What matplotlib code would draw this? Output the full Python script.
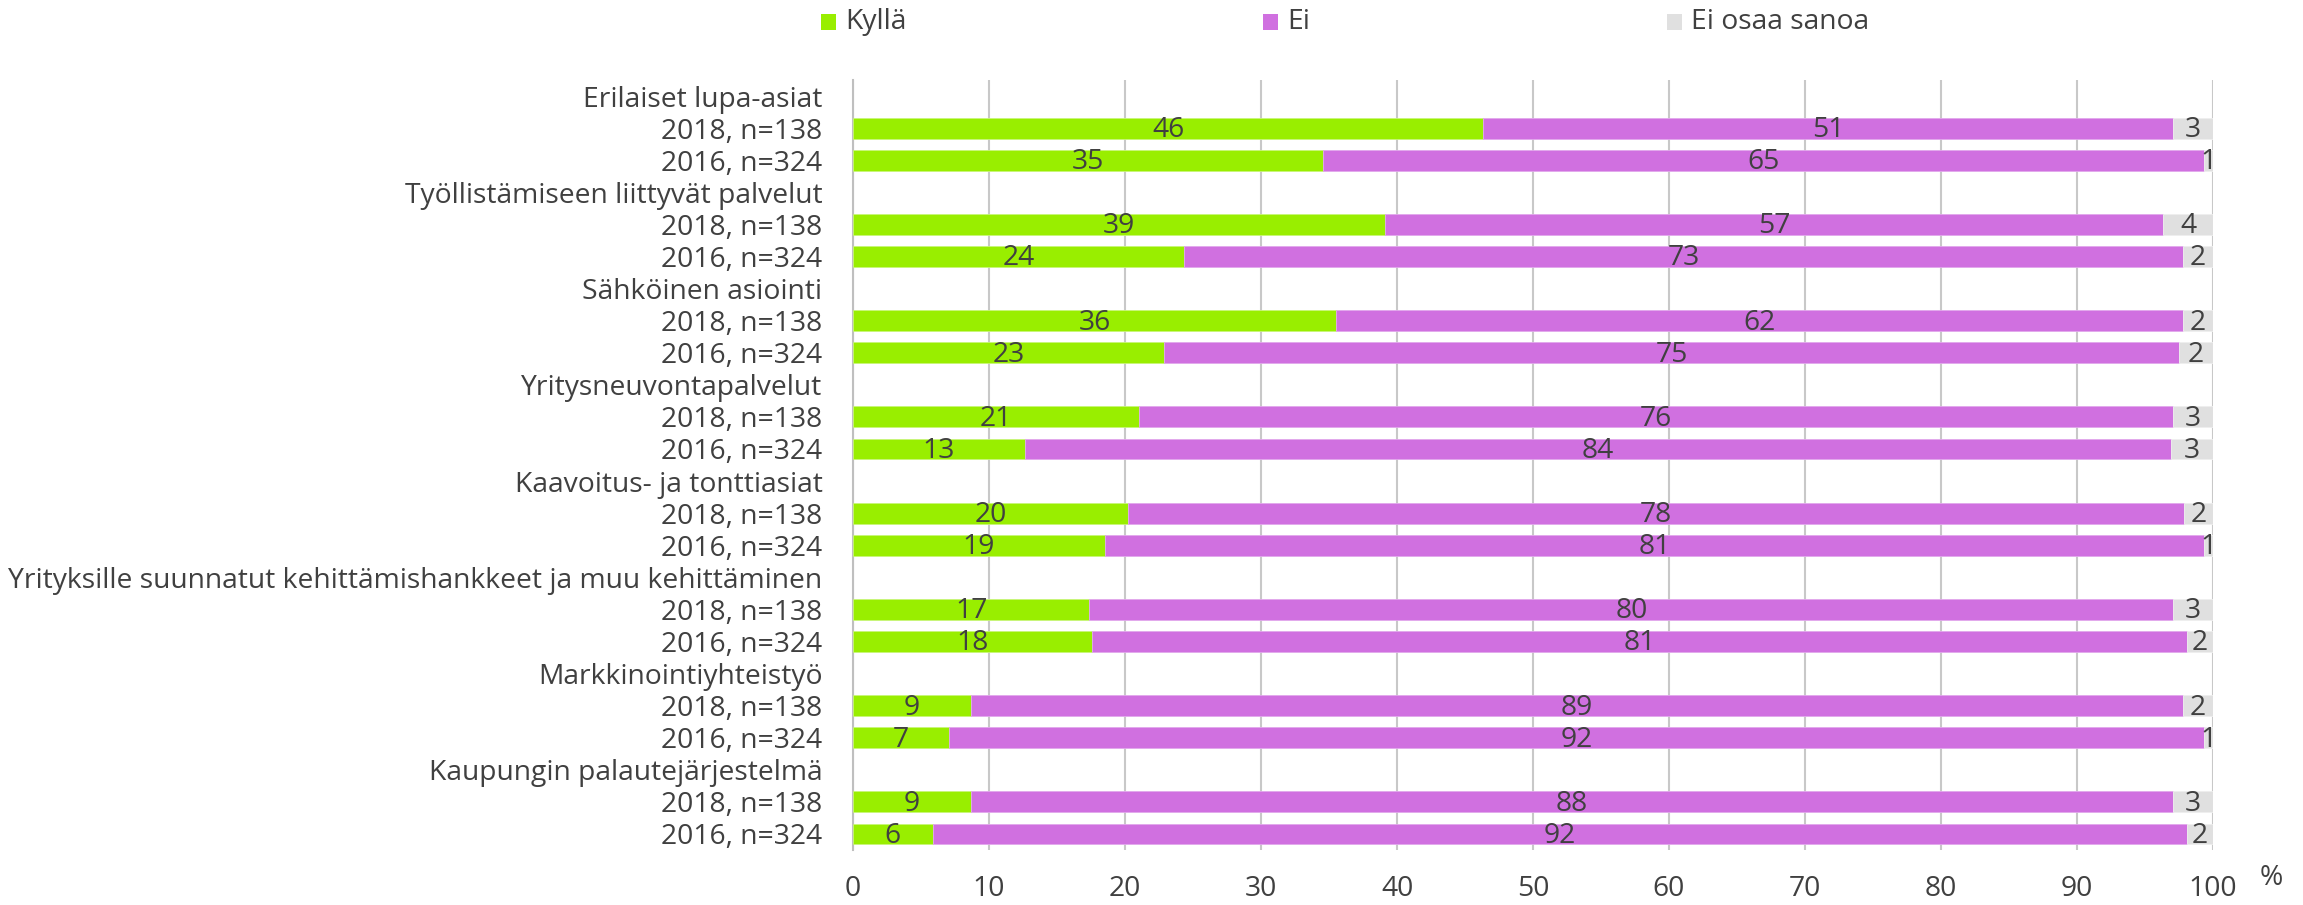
import matplotlib
matplotlib.use("Agg")
import matplotlib.pyplot as plt
from matplotlib.patches import Rectangle

plt.rcParams['font.family'] = ['Open Sans', 'DejaVu Sans']

groups = ["Erilaiset lupa-asiat",
          "Työllistämiseen liittyvät palvelut",
          "Sähköinen asiointi",
          "Yritysneuvontapalvelut",
          "Kaavoitus- ja tonttiasiat",
          "Yrityksille suunnatut kehittämishankkeet ja muu kehittäminen",
          "Markkinointiyhteistyö",
          "Kaupungin palautejärjestelmä"]
years = ["2018, n=138", "2016, n=324"]
series = ["Kyllä", "Ei", "Ei osaa sanoa"]

kylla = [46.34, 34.56, 39.10, 24.33, 35.52, 22.84, 21.02, 12.64,
         20.25, 18.52, 17.37, 17.59, 8.69, 7.08, 8.69, 5.87]
ei = [50.74, 64.80, 57.25, 73.49, 62.25, 74.68, 76.06, 84.25,
      77.60, 80.84, 79.71, 80.52, 89.08, 92.28, 88.39, 92.24]
eos = [2.92, 0.64, 3.65, 2.18, 2.23, 2.48, 2.92, 3.11,
       2.15, 0.64, 2.92, 1.89, 2.23, 0.64, 2.92, 1.89]

colors = ["#99EE00", "#D070E0", "#E0E0E0"]
edges = ["#C8F57A", "#E2A8EC", "#EEEEEE"]
txt = "#404040"
FS = 20.3

W, H = 2303, 905
fig = plt.figure(figsize=(W / 100, H / 100), dpi=100)
ax = fig.add_axes([853 / W, 1 - 850 / H, (2213 - 853) / W, (850 - 80) / H])

# build row layout: header row then two year rows per group
ylabels = []
bar_rows = []
r = 0
for g in groups:
    ylabels.append(g)
    r += 1
    for y in years:
        ylabels.append(y)
        bar_rows.append(r)
        r += 1

vals = [kylla, ei, eos]
left = [0.0] * len(bar_rows)
for s, (name, data, col, ec) in enumerate(zip(series, vals, colors, edges)):
    ax.barh(bar_rows, data, left=left, height=0.65, color=col,
            edgecolor=ec, linewidth=0.6, zorder=3)
    for yr, l, v in zip(bar_rows, left, data):
        ax.text(l + v / 2, yr + 0.06, f"{round(v)}", ha="center", va="center",
                fontsize=FS, color=txt, zorder=4)
    left = [a + b for a, b in zip(left, data)]

ax.set_xlim(0, 100)
ax.set_ylim(len(ylabels) - 0.5, -0.5)
ax.set_yticks(range(len(ylabels)))
ax.set_yticklabels(ylabels, fontsize=FS, color=txt)
ax.set_xticks(range(0, 101, 10))
ax.set_xticklabels([str(t) for t in range(0, 101, 10)], fontsize=FS, color=txt)
ax.tick_params(axis="y", length=0, pad=22)
ax.tick_params(axis="x", length=0, pad=18)
for sp in ["top", "right", "bottom"]:
    ax.spines[sp].set_visible(False)
ax.spines["left"].set_color("#BFBFBF")
ax.spines["left"].set_linewidth(1.5)
ax.grid(axis="x", color="#C8C8C8", linewidth=1.5, zorder=0)
ax.set_axisbelow(True)

fig.text(2260 / W, 1 - 878 / H, "%", fontsize=FS, color=txt, ha="left", va="center")

# legend
leg_x = [821, 1263, 1667]
ly = 22
for name, col, x in zip(series, colors, leg_x):
    fig.patches.append(Rectangle((x / W, 1 - (ly + 8) / H), 15 / W, 16 / H,
                                 transform=fig.transFigure, facecolor=col,
                                 edgecolor="none"))
    fig.text((x + 24) / W, 1 - ly / H, name, fontsize=FS, color=txt,
             ha="left", va="center")

fig.savefig("out.png", dpi=100)
